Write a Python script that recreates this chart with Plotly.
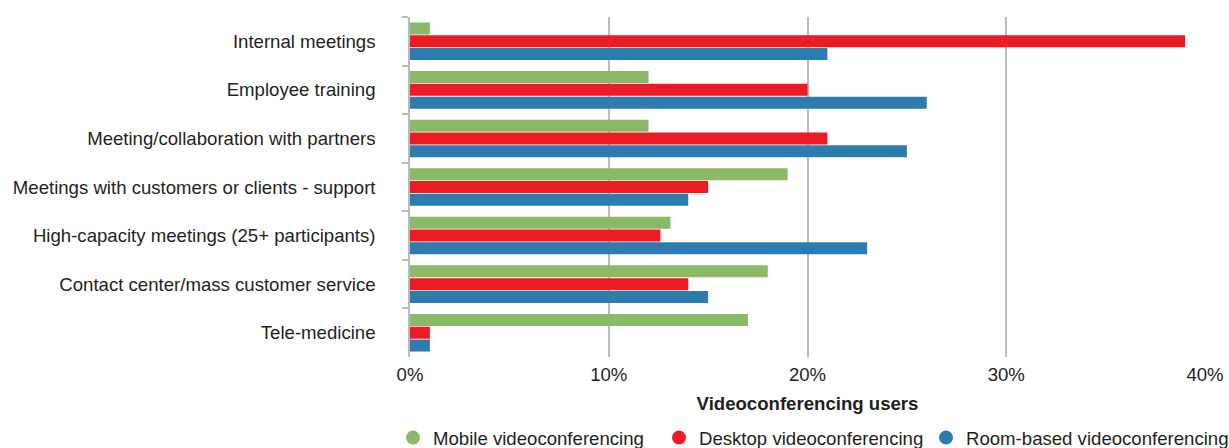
import plotly.graph_objects as go

categories = [
    "Internal meetings",
    "Employee training",
    "Meeting/collaboration with partners",
    "Meetings with customers or clients - support",
    "High-capacity meetings (25+ participants)",
    "Contact center/mass customer service",
    "Tele-medicine",
]
mobile = [1, 12, 12, 19, 13.1, 18, 17]
desktop = [39, 20, 21, 15, 12.6, 14, 1]
room = [21, 26, 25, 14, 23, 15, 1]

series = [
    ("Mobile videoconferencing", mobile, "#8BB968"),
    ("Desktop videoconferencing", desktop, "#ED1C24"),
    ("Room-based videoconferencing", room, "#2E7BAD"),
]
legend_ids = ["legend", "legend2", "legend3"]
legend_x = [393, 659, 926]

fig = go.Figure()
for name, vals, color in series:
    fig.add_trace(go.Bar(
        y=categories, x=vals, orientation="h", name=name,
        marker=dict(color=color, line=dict(width=0)),
        showlegend=False,
    ))
for (name, vals, color), lid in zip(series, legend_ids):
    fig.add_trace(go.Scatter(
        x=[None], y=[None], mode="markers", name=name,
        marker=dict(color=color, size=14, symbol="circle"),
        showlegend=True, legend=lid,
    ))

font = "Liberation Sans, Arial, sans-serif"
fs = 18.6
layout_legends = {}
for lid, lx in zip(legend_ids, legend_x):
    layout_legends[lid] = dict(
        orientation="h", xref="container", yref="container",
        x=lx / 1229, xanchor="left", y=10 / 448, yanchor="middle",
        font=dict(size=fs), itemwidth=30,
        bgcolor="rgba(0,0,0,0)",
    )

fig.update_layout(
    width=1229, height=448,
    margin=dict(l=410, r=24, t=17, b=91),
    plot_bgcolor="white", paper_bgcolor="white",
    barmode="group", bargap=0.21, bargroupgap=0.06,
    font=dict(family=font, size=fs, color="#231F20"),
    xaxis=dict(
        range=[0, 40], tickvals=[0, 10, 20, 30, 40],
        ticktext=["0%", "10%", "20%", "30%", "40%"],
        showgrid=True, gridcolor="#BBBBBB", gridwidth=1.5,
        zeroline=False, showline=False, ticks="",
        ticklabelstandoff=4,
        tickfont=dict(size=fs),
        title=dict(text="<b>Videoconferencing users</b>", font=dict(size=fs), standoff=13),
        automargin=False,
        fixedrange=True,
    ),
    yaxis=dict(
        autorange="reversed", type="category",
        showline=True, linecolor="#BBBBBB", linewidth=1.5,
        ticks="outside", tickson="boundaries", ticklen=6, tickcolor="#BBBBBB", tickwidth=1.5,
        ticklabelstandoff=29, automargin=False,
        tickfont=dict(size=fs), showgrid=False,
    ),
    **layout_legends,
)
fig.write_html("out.html")
